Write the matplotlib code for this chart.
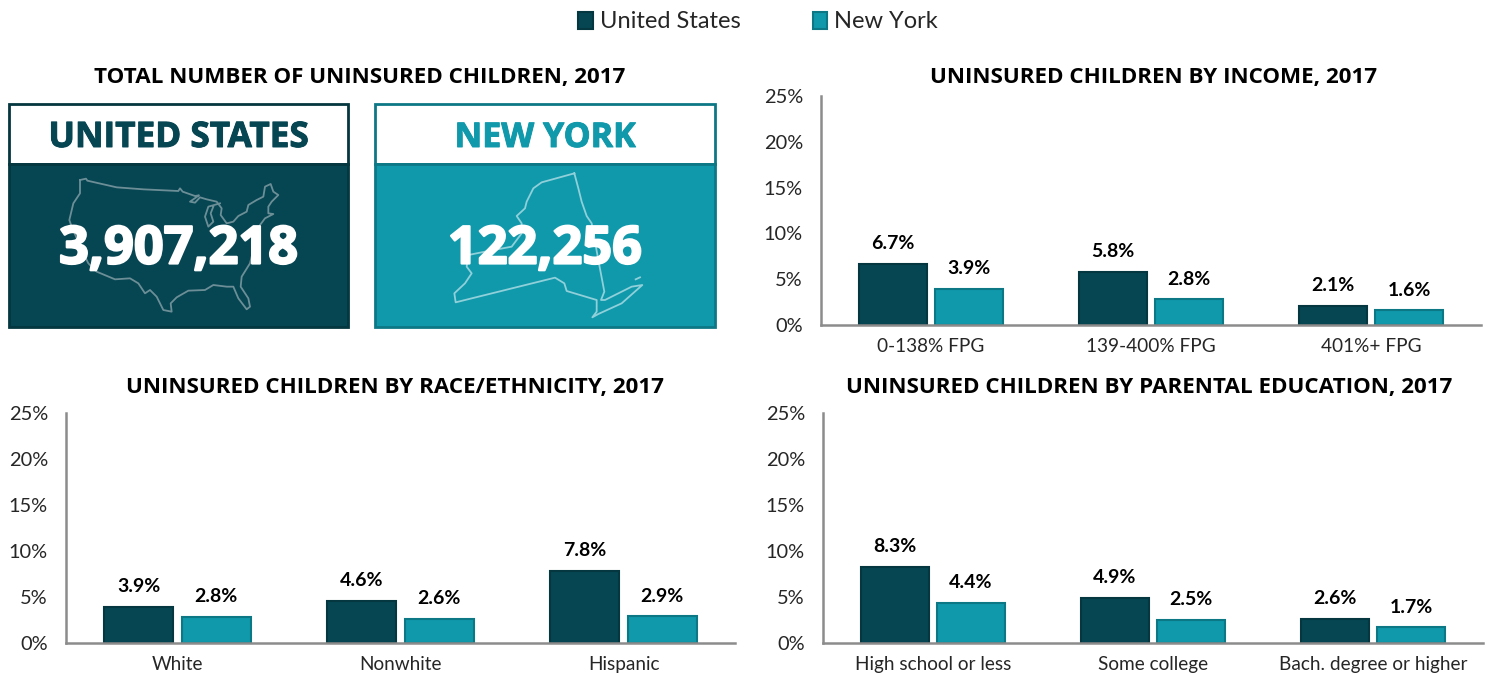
import matplotlib
matplotlib.use("Agg")
import matplotlib.pyplot as plt
import matplotlib.patheffects as pe
from matplotlib.patches import Rectangle, Patch

W, H = 1493, 674
US_DARK, US_EDGE = "#064552", "#04373F"
NY_FILL, NY_EDGE = "#1099AB", "#0D7885"
AXIS = "#8C8C8C"
TXT = "#262626"
BODY = "Lato"
HEAD = "Open Sans"

series_names = ["United States", "New York"]
card_titles = ["UNITED STATES", "NEW YORK"]
card_totals = ["3,907,218", "122,256"]

income_cats = ["0-138% FPG", "139-400% FPG", "401%+ FPG"]
income_us = [6.7, 5.8, 2.1]
income_ny = [3.9, 2.8, 1.6]

race_cats = ["White", "Nonwhite", "Hispanic"]
race_us = [3.9, 4.6, 7.8]
race_ny = [2.8, 2.6, 2.9]

edu_cats = ["High school or less", "Some college", "Bach. degree or higher"]
edu_us = [8.3, 4.9, 2.6]
edu_ny = [4.4, 2.5, 1.7]

yticks = [0, 5, 10, 15, 20, 25]

# decorative outlines (zoom-crop pixels)
us_outline = [(240,270),(258,266),(262,272),(350,292),(430,298),(535,303),(540,295),(548,305),(585,318),(597,316),
 (570,335),(585,338),(600,322),(620,328),(650,335),(665,355),(662,375),(680,400),(700,395),(715,378),(740,365),
 (745,345),(770,330),(790,320),(795,290),(812,282),(820,305),(835,315),(815,335),(805,350),(805,370),(820,372),
 (795,385),(780,405),(770,440),(750,520),(725,560),(722,590),(745,625),(750,650),(740,658),(715,625),(700,590),
 (680,590),(640,585),(615,600),(565,602),(530,622),(512,640),(515,665),(490,660),(470,620),(450,600),(435,610),
 (415,580),(390,565),(345,568),(290,545),(265,520),(250,490),(215,410),(208,390),(220,340),(240,310),(240,270)]
us_lake = [(660,340),(625,350),(615,380),(625,410),(640,395),(632,370),(640,350)]
ny_outline = [(628,250),(530,277),(505,295),(485,335),(480,355),(455,378),(470,400),(470,430),(440,470),(360,485),
 (310,495),(305,530),(320,550),(300,580),(268,610),(272,637),(570,563),(598,580),(605,603),(695,630),(695,665),
 (682,682),(700,672),(770,640),(832,585),(800,590),(770,605),(720,630),(708,630),(718,605),(700,510),(680,400),
 (665,378),(650,335),(640,295),(628,250)]
ny_island = [(812,568),(825,562)]

fig = plt.figure(figsize=(W/100, H/100), dpi=100, facecolor="white")


def px_axes(x0, x1, ytop, ybot):
    return fig.add_axes([x0/W, 1-ybot/H, (x1-x0)/W, (ybot-ytop)/H])


def panel(box, title, title_x, title_y, cats, us, ny, barw):
    ax = px_axes(*box)
    n = len(cats)
    gap = 0.036
    xs = list(range(n))
    b1 = ax.bar([x-barw/2-gap/2 for x in xs], us, barw, color=US_DARK, edgecolor=US_EDGE, linewidth=1.5, zorder=2,
                label=series_names[0])
    b2 = ax.bar([x+barw/2+gap/2 for x in xs], ny, barw, color=NY_FILL, edgecolor=NY_EDGE, linewidth=1.5, zorder=2,
                label=series_names[1])
    for bars, vals in ((b1, us), (b2, ny)):
        for r, v in zip(bars, vals):
            ax.annotate(f"{v:.1f}%", (r.get_x()+r.get_width()/2, v), xytext=(0, 8.5), textcoords="offset points",
                        ha="center", va="bottom", fontsize=14, fontweight="bold", family=BODY, color="black")
    ax.set_xlim(-0.5, n-0.5)
    ax.set_ylim(0, 25)
    ax.set_yticks(yticks, [f"{t}%" for t in yticks])
    ax.set_xticks(xs, cats)
    ax.tick_params(axis="x", length=0, labelsize=13.7, labelcolor=TXT, pad=9.5)
    ax.tick_params(axis="y", length=0, labelsize=14.4, labelcolor=TXT, pad=13)
    for lab in ax.get_xticklabels()+ax.get_yticklabels():
        lab.set_family(BODY)
    for s in ("top", "right"):
        ax.spines[s].set_visible(False)
    for s in ("left", "bottom"):
        ax.spines[s].set_color(AXIS)
        ax.spines[s].set_linewidth(1.8)
    fig.text(title_x/W, 1-title_y/H, title, ha="center", va="center", fontsize=16.1, fontweight="bold",
             family=HEAD, color="black")
    return b1, b2


panel((821, 1481, 96, 325), "UNINSURED CHILDREN BY INCOME, 2017", 1153.5, 77,
      income_cats, income_us, income_ny, 0.31)
panel((66, 735, 413, 643), "UNINSURED CHILDREN BY RACE/ETHNICITY, 2017", 394.5, 387,
      race_cats, race_us, race_ny, 0.31)
panel((823, 1483, 413, 643), "UNINSURED CHILDREN BY PARENTAL EDUCATION, 2017", 1149, 387,
      edu_cats, edu_us, edu_ny, 0.31)

fig.text(360/W, 1-77/H, "TOTAL NUMBER OF UNINSURED CHILDREN, 2017", ha="center", va="center", fontsize=16.1,
         fontweight="bold", family=HEAD, color="black")

# overlay in pixel coordinates for the two cards
ov = fig.add_axes([0, 0, 1, 1], zorder=5)
ov.set_xlim(0, W)
ov.set_ylim(H, 0)
ov.axis("off")


def card(x0, x1, fill, edge, line, title, total, outlines, ox, tsize, nsize):
    ytop, ymid, ybot = 104, 164, 327
    ov.add_patch(Rectangle((x0, ytop), x1-x0, ymid-ytop, fc="white", ec=edge, lw=2))
    ov.add_patch(Rectangle((x0, ymid), x1-x0, ybot-ymid, fc=fill, ec=edge, lw=2))
    for path in outlines:
        ov.plot([ox+p[0]/3 for p in path], [90+p[1]/3 for p in path], color=line, lw=1.3, solid_joinstyle="round")
    cx = (x0+x1)/2
    ov.text(cx, 138, title, ha="center", va="center", fontsize=tsize, fontweight="bold", family=HEAD, color=fill,
            path_effects=[pe.withStroke(linewidth=0.7, foreground=fill)])
    ov.text(cx, 250, total, ha="center", va="center", fontsize=nsize, fontweight="bold", family=HEAD, color="white",
            path_effects=[pe.withStroke(linewidth=1.6, foreground="white")])


card(9, 348, US_DARK, US_EDGE, "#6C8F97", card_titles[0], card_totals[0], [us_outline, us_lake], 0, 25.3, 37.6)
card(375, 715, NY_FILL, NY_EDGE, "#8FD0DA", card_titles[1], card_totals[1], [ny_outline, ny_island], 365, 24.5, 37.6)

fig.legend([Patch(fc=US_DARK, ec=US_EDGE, lw=1.5), Patch(fc=NY_FILL, ec=NY_EDGE, lw=1.5)], series_names,
           loc="center", bbox_to_anchor=(758/W, 1-22/H), ncol=2, frameon=False, handlelength=0.62, handleheight=0.72,
           handletextpad=0.3, columnspacing=3.05, prop={"family": BODY, "size": 17}, labelcolor=TXT)

fig.savefig("out.png", dpi=100)
